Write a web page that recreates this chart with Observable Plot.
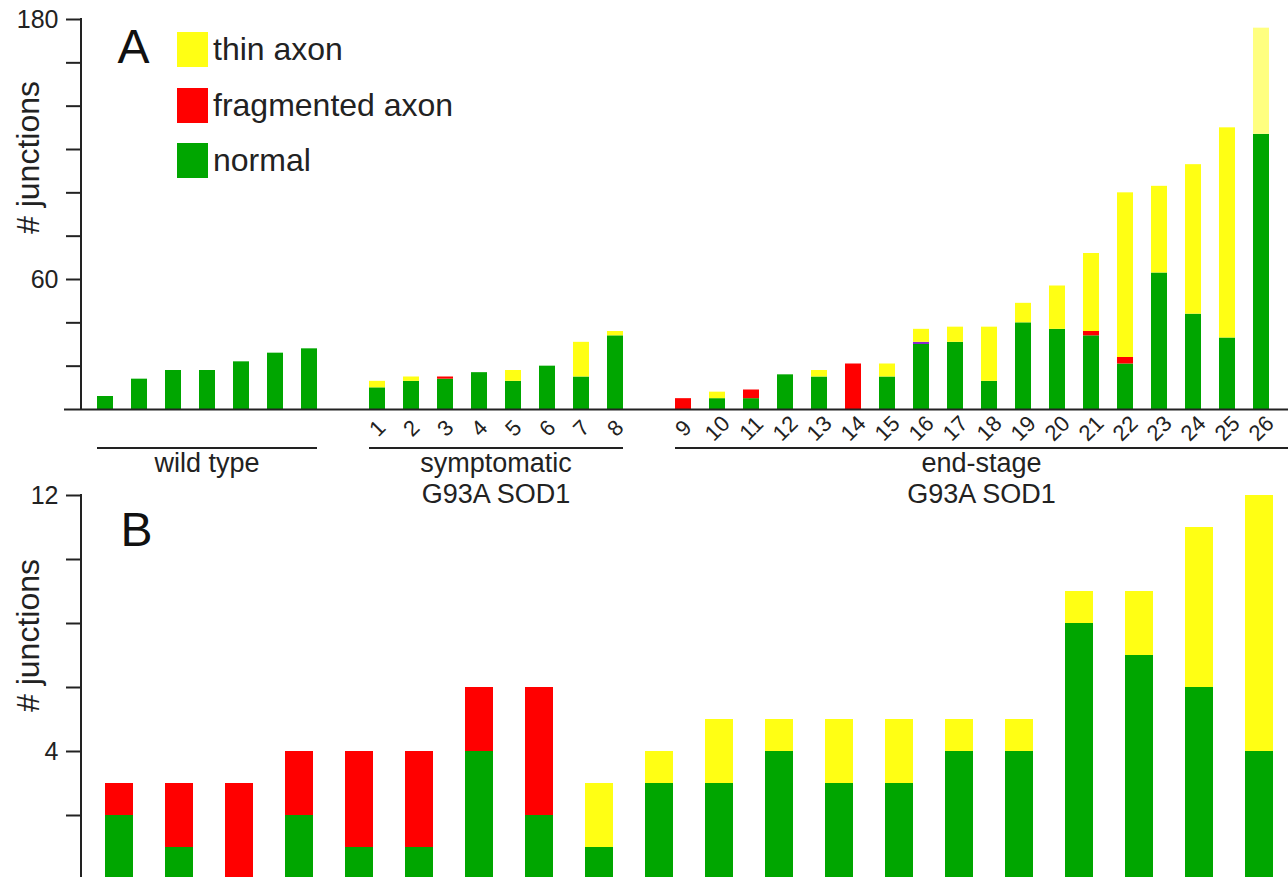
<!DOCTYPE html>
<html>
<head>
<meta charset="utf-8">
<script src="https://cdn.jsdelivr.net/npm/d3@7"></script>
<script src="https://cdn.jsdelivr.net/npm/@observablehq/plot@0.6"></script>
<style>
  html, body { margin: 0; padding: 0; background: #fff; overflow: hidden; }
  #fig { position: relative; width: 1288px; height: 877px; overflow: hidden;
         font-family: "Liberation Sans", Arial, sans-serif; color: #222; }
  #fig svg { position: absolute; left: 0; }
  .legend { position: absolute; left: 177px; top: 22px; }
  .item { display: flex; align-items: center; height: 55.5px; font-size: 32px; color: #222; }
  .sw { width: 31px; height: 35px; margin-right: 5px; }
</style>
</head>
<body>
<div id="fig"></div>
<script>
// ---------- Panel A data ----------
const wildTypeKeys = ["w1", "w2", "w3", "w4", "w5", "w6", "w7"];
const wildTypeNormal = [6, 14, 18, 18, 22, 26, 28];

const symptomaticIds = ["1", "2", "3", "4", "5", "6", "7", "8"];
const symptomaticNormal     = [10, 13, 14, 17, 13, 20, 15, 34];
const symptomaticFragmented = [0, 0, 1, 0, 0, 0, 0, 0];
const symptomaticThin       = [3, 2, 0, 0, 5, 0, 16, 2];

const endStageIds = ["9", "10", "11", "12", "13", "14", "15", "16", "17", "18", "19", "20", "21", "22", "23", "24", "25", "26"];
const endStageNormal     = [0, 5, 5, 16, 15, 0, 15, 30, 31, 13, 40, 37, 34, 21, 63, 44, 33, 127];
const endStageFragmented = [5, 0, 4, 0, 0, 21, 0, 0, 0, 0, 0, 0, 2, 3, 0, 0, 0, 0];
const endStageOther      = [0, 0, 0, 0, 0, 0, 0, 1, 0, 0, 0, 0, 0, 0, 0, 0, 0, 0];
const endStageThin       = [0, 3, 0, 0, 3, 0, 6, 6, 7, 25, 9, 20, 36, 76, 40, 69, 97, 0];
const endStageThinPale   = [0, 0, 0, 0, 0, 0, 0, 0, 0, 0, 0, 0, 0, 0, 0, 0, 0, 49];

const groupNames = [["wild type"], ["symptomatic", "G93A SOD1"], ["end-stage", "G93A SOD1"]];
const yTicksA = [20, 40, 60, 80, 100, 120, 140, 160, 180];
const yLabelsA = [60, 180];

// ---------- Panel B data ----------
const samplesB = ["1","2","3","4","5","6","7","8","9","10","11","12","13","14","15","16","17","18","19","20"];
const bNormal     = [2, 1, 0, 2, 1, 1, 4, 2, 1, 3, 3, 4, 3, 3, 4, 4, 8, 7, 6, 4];
const bFragmented = [1, 2, 3, 2, 3, 3, 2, 4, 0, 0, 0, 0, 0, 0, 0, 0, 0, 0, 0, 0];
const bThin       = [0, 0, 0, 0, 0, 0, 0, 0, 2, 1, 2, 1, 2, 2, 1, 1, 1, 2, 5, 8];
const yTicksB = [2, 4, 6, 8, 10, 12];
const yLabelsB = [4, 12];

// ---------- categories ----------
const categories = ["normal", "fragmented axon", "other", "thin axon", "thin axon (pale)"];
const catColors  = ["#00a600", "#ff0000", "#8a2ad0", "#ffff14", "#ffff80"];
const legendCats = ["thin axon", "fragmented axon", "normal"];

// ---------- build tables ----------
const rowsA = [];
wildTypeKeys.forEach((k, i) => rowsA.push({slot: k, cat: "normal", value: wildTypeNormal[i]}));
symptomaticIds.forEach((k, i) => {
  rowsA.push({slot: k, cat: "normal", value: symptomaticNormal[i]});
  rowsA.push({slot: k, cat: "fragmented axon", value: symptomaticFragmented[i]});
  rowsA.push({slot: k, cat: "thin axon", value: symptomaticThin[i]});
});
endStageIds.forEach((k, i) => {
  rowsA.push({slot: k, cat: "normal", value: endStageNormal[i]});
  rowsA.push({slot: k, cat: "fragmented axon", value: endStageFragmented[i]});
  rowsA.push({slot: k, cat: "other", value: endStageOther[i]});
  rowsA.push({slot: k, cat: "thin axon", value: endStageThin[i]});
  rowsA.push({slot: k, cat: "thin axon (pale)", value: endStageThinPale[i]});
});
const slotsA = [...wildTypeKeys, "gap1", ...symptomaticIds, "gap2", ...endStageIds];
const groupSlots = [wildTypeKeys, symptomaticIds, endStageIds];

const rowsB = [];
samplesB.forEach((k, i) => {
  rowsB.push({slot: k, cat: "normal", value: bNormal[i]});
  rowsB.push({slot: k, cat: "fragmented axon", value: bFragmented[i]});
  rowsB.push({slot: k, cat: "thin axon", value: bThin[i]});
});

const font = '"Liberation Sans", Arial, sans-serif';
const ink = "#222";
const W = 1288;

const chartA = Plot.plot({
  width: W, height: 500,
  marginLeft: 81, marginRight: 0, marginTop: 19, marginBottom: 91,
  x: {type: "band", domain: slotsA, range: [88.45, 1277.9], paddingInner: 0.522, paddingOuter: 0, align: 0.5, axis: null},
  y: {domain: [0, 180], axis: null},
  color: {domain: categories, range: catColors},
  style: {fontFamily: font, color: ink, background: "transparent", overflow: "visible"},
  marks: [
    Plot.barY(rowsA, {x: "slot", y: "value", fill: "cat", order: categories}),
    Plot.axisY({ticks: yTicksA, tickSize: 15, tickPadding: 8, strokeWidth: 2, stroke: ink, fill: ink,
                tickFormat: d => yLabelsA.includes(d) ? String(d) : "", fontSize: 25, label: null}),
    Plot.ruleY([0], {stroke: ink, strokeWidth: 2, insetLeft: -17}),
    Plot.text([...symptomaticIds, ...endStageIds], {x: d => d, y: () => 0, dy: 19, rotate: -45,
                fontSize: 22, textAnchor: "middle", lineAnchor: "middle", fill: ink}),
    Plot.text(["A"], {frameAnchor: "top-left", dx: 36, dy: 43, fontSize: 48, textAnchor: "start", lineAnchor: "bottom", fill: "#111"}),
    Plot.text(["# junctions"], {frameAnchor: "top-left", dx: -53, dy: 138, rotate: -90, fontSize: 32,
                textAnchor: "middle", lineAnchor: "middle", fill: ink})
  ]
});

const chartB = Plot.plot({
  width: W, height: 402,
  marginLeft: 81, marginRight: 0, marginTop: 15, marginBottom: 3,
  x: {type: "band", domain: samplesB, range: [96, 1281], paddingInner: 0.54, paddingOuter: 0, align: 0.5, axis: null},
  y: {domain: [0, 12], axis: null},
  color: {domain: categories, range: catColors},
  style: {fontFamily: font, color: ink, background: "transparent", overflow: "visible"},
  marks: [
    Plot.barY(rowsB, {x: "slot", y: "value", fill: "cat", order: categories}),
    Plot.axisY({ticks: yTicksB, tickSize: 15, tickPadding: 8, strokeWidth: 2, stroke: ink, fill: ink,
                tickFormat: d => yLabelsB.includes(d) ? String(d) : "", fontSize: 25, label: null}),
    Plot.ruleY([0], {stroke: ink, strokeWidth: 2, insetLeft: -17}),
    Plot.text(["B"], {frameAnchor: "top-left", dx: 39, dy: 50, fontSize: 48, textAnchor: "start", lineAnchor: "bottom", fill: "#111"}),
    Plot.text(["# junctions"], {frameAnchor: "top-left", dx: -53, dy: 140, rotate: -90, fontSize: 32,
                textAnchor: "middle", lineAnchor: "middle", fill: ink})
  ]
});

const fig = document.getElementById("fig");
chartA.style.top = "0px";
chartB.style.top = "480px";
fig.appendChild(chartB);
fig.appendChild(chartA);

// vertical axis lines, positioned from each chart's y scale
[[chartA, 180], [chartB, 12]].forEach(([chart, top]) => {
  const sy = chart.scale("y");
  d3.select(chart).append("line")
    .attr("x1", 81).attr("x2", 81)
    .attr("y1", sy.apply(0)).attr("y2", sy.apply(top) - 1)
    .attr("stroke", ink).attr("stroke-width", 2);
});

// group underlines and names, positioned from the x scale of panel A
const sx = chartA.scale("x");
const svgA = d3.select(chartA);
groupSlots.forEach((slots, gi) => {
  const x1 = sx.apply(slots[0]);
  let x2 = sx.apply(slots[slots.length - 1]) + sx.bandwidth;
  if (gi === groupSlots.length - 1) x2 = W;
  const cx = (x1 + x2) / 2;
  svgA.append("line").attr("x1", x1).attr("x2", x2).attr("y1", 448).attr("y2", 448)
      .attr("stroke", ink).attr("stroke-width", 2);
  groupNames[gi].forEach((t, li) => {
    svgA.append("text").attr("x", cx).attr("y", 472 + li * 31)
        .attr("text-anchor", "middle").attr("font-size", 27).attr("fill", ink)
        .attr("font-family", font).text(t);
  });
});

// legend built from the color scale
const color = chartA.scale("color");
const legend = document.createElement("div");
legend.className = "legend";
legendCats.forEach(c => {
  const item = document.createElement("div");
  item.className = "item";
  const sw = document.createElement("div");
  sw.className = "sw";
  sw.style.background = color.apply(c);
  const lab = document.createElement("span");
  lab.textContent = c;
  item.appendChild(sw);
  item.appendChild(lab);
  legend.appendChild(item);
});
fig.appendChild(legend);
</script>
</body>
</html>
